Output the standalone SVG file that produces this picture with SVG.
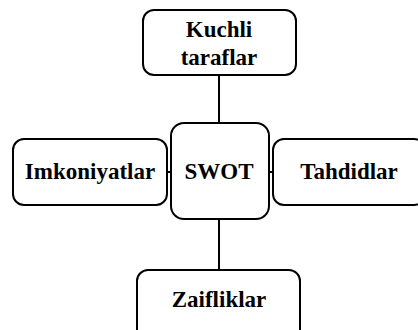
<svg xmlns="http://www.w3.org/2000/svg" width="418" height="330" viewBox="0 0 418 330">
<style>
.box{fill:#fff;stroke:#000;stroke-width:2}
.t{font-family:'Liberation Serif','Times New Roman',Times,serif;font-weight:bold;font-size:23px;fill:#000;text-anchor:middle}
.c{stroke:#000;stroke-width:2;fill:none}
</style>
<rect width="418" height="330" fill="#fff"/>
<g id="connectors">
<line class="c" x1="219" y1="75" x2="219" y2="123"/>
<line class="c" x1="219" y1="219" x2="219" y2="270"/>
<line class="c" x1="167" y1="172" x2="171" y2="172"/>
<line class="c" x1="269" y1="172" x2="273" y2="172"/>
</g>
<g id="kuchli">
<rect class="box" x="143" y="10" width="153" height="65" rx="11"/>
<text class="t" x="219" y="37">Kuchli</text>
<text class="t" x="219" y="65">taraflar</text>
</g>
<g id="imkoniyatlar">
<rect class="box" x="13" y="139" width="154" height="66" rx="11"/>
<text class="t" x="90" y="179">Imkoniyatlar</text>
</g>
<g id="swot">
<rect class="box" x="171" y="123" width="98" height="96" rx="13"/>
<text class="t" x="219" y="179">SWOT</text>
</g>
<g id="tahdidlar">
<rect class="box" x="273" y="139" width="152" height="66" rx="11"/>
<text class="t" x="349" y="179">Tahdidlar</text>
</g>
<g id="zaifliklar">
<rect class="box" x="137" y="270" width="163" height="70" rx="11"/>
<text class="t" x="219" y="307">Zaifliklar</text>
</g>
</svg>
